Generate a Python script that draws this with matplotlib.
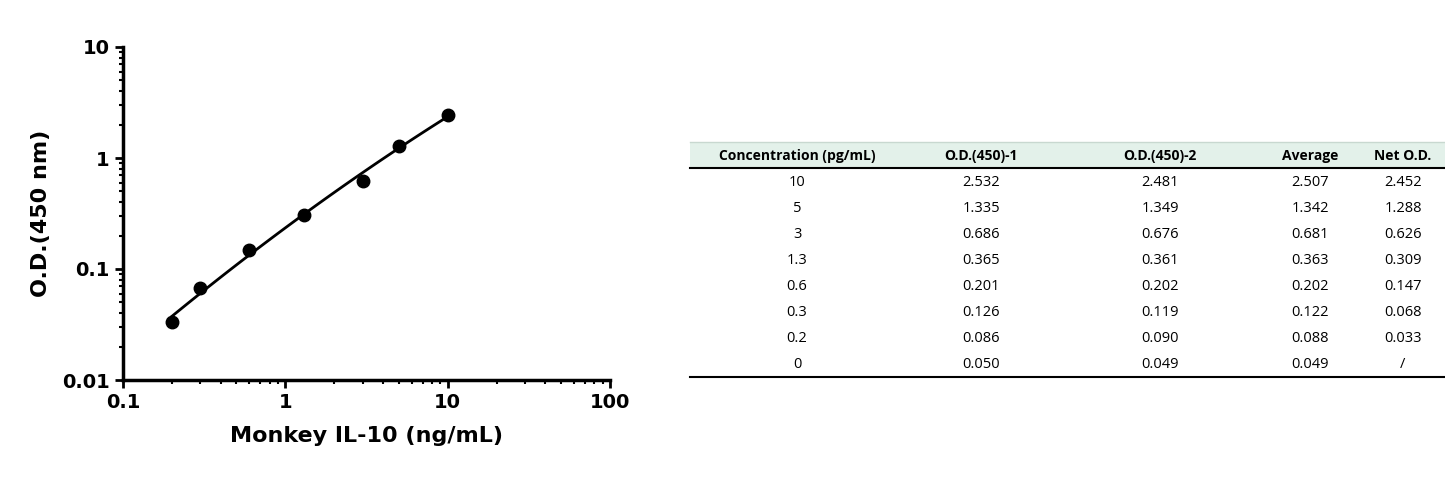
import numpy as np
import matplotlib
matplotlib.use("Agg")
import matplotlib.pyplot as plt
from matplotlib.patches import Rectangle
from matplotlib.lines import Line2D

conc = [0.2, 0.3, 0.6, 1.3, 3, 5, 10]
net_od = [0.033, 0.068, 0.147, 0.309, 0.626, 1.288, 2.452]

col_labels = ["Concentration (pg/mL)", "O.D.(450)-1", "O.D.(450)-2", "Average", "Net O.D."]
tab_conc = ["10", "5", "3", "1.3", "0.6", "0.3", "0.2", "0"]
tab_od1 = ["2.532", "1.335", "0.686", "0.365", "0.201", "0.126", "0.086", "0.050"]
tab_od2 = ["2.481", "1.349", "0.676", "0.361", "0.202", "0.119", "0.090", "0.049"]
tab_avg = ["2.507", "1.342", "0.681", "0.363", "0.202", "0.122", "0.088", "0.049"]
tab_net = ["2.452", "1.288", "0.626", "0.309", "0.147", "0.068", "0.033", "/"]

W, H = 1445, 484
fig = plt.figure(figsize=(W/100, H/100), dpi=100)
ax = fig.add_axes([123/W, 1-380/H, 487/W, 333/H])
ax.set_xscale("log"); ax.set_yscale("log")
ax.set_xlim(0.1, 100); ax.set_ylim(0.01, 10)
lx, ly = np.log10(conc), np.log10(net_od)
p = np.polyfit(lx, ly, 2)
xs = np.linspace(lx[0], lx[-1], 100)
ax.plot(10**xs, 10**np.polyval(p, xs), color="black", lw=2)
ax.plot(conc, net_od, "o", color="black", ms=9)
for s in ["top", "right"]:
    ax.spines[s].set_visible(False)
for s in ["left", "bottom"]:
    ax.spines[s].set_linewidth(2.5)
ax.tick_params(which="major", width=2, length=6, labelsize=14)
ax.tick_params(which="minor", width=1.5, length=3)
ax.set_xticks([0.1, 1, 10, 100]); ax.set_xticklabels(["0.1", "1", "10", "100"], fontweight="bold")
ax.set_yticks([0.01, 0.1, 1, 10]); ax.set_yticklabels(["0.01", "0.1", "1", "10"], fontweight="bold")
ax.set_xlabel("Monkey IL-10 (ng/mL)", fontsize=16, fontweight="bold", labelpad=10)
ax.set_ylabel("O.D.(450 nm)", fontsize=16, fontweight="bold", labelpad=8)

# table
x0, x1 = 690/W, 1445/W
fig.patches.append(Rectangle((x0, 1-168/H), x1-x0, 26/H, transform=fig.transFigure,
                             facecolor="#e3f1ea", edgecolor="none"))
fig.add_artist(Line2D([x0, x1], [1-142/H]*2, color="#c8d8d0", lw=1))
fig.add_artist(Line2D([x0, x1], [1-168/H]*2, color="black", lw=1.5))
fig.add_artist(Line2D([x0, x1], [1-377/H]*2, color="black", lw=1.5))
cx = [797, 981, 1160, 1310, 1403]
for c, lab in zip(cx, col_labels):
    fig.text(c/W, 1-156/H, lab, ha="center", va="center", fontsize=10, fontweight="bold", family="Open Sans")
cols = [tab_conc, tab_od1, tab_od2, tab_avg, tab_net]
for i in range(len(tab_conc)):
    y = 182 + i*26
    for c, col in zip(cx, cols):
        fig.text(c/W, 1-y/H, col[i], ha="center", va="center", fontsize=10.5, family="Open Sans")
fig.savefig("out.png", dpi=100)
